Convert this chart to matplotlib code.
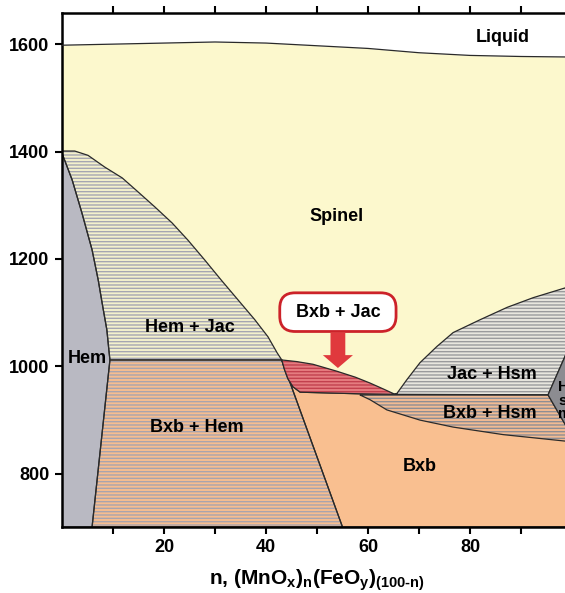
import matplotlib
matplotlib.use("Agg")
import matplotlib.pyplot as plt
from matplotlib.patches import Polygon

plt.rcParams['font.family'] = ['Liberation Sans', 'DejaVu Sans']
plt.rcParams['font.weight'] = 'bold'
plt.rcParams['mathtext.fontset'] = 'custom'
plt.rcParams['mathtext.rm'] = 'Liberation Sans:bold'
plt.rcParams['mathtext.it'] = 'Liberation Sans:bold'
plt.rcParams['mathtext.bf'] = 'Liberation Sans:bold'
plt.rcParams['hatch.linewidth'] = 1.0

# phase boundaries, n (mol% MnOx) vs T (deg C)
liquidus_n = [0, 10, 20, 30, 40, 50, 60, 70, 80, 90, 100]
liquidus_T = [1598, 1600, 1602, 1604, 1602, 1597, 1592, 1584, 1579, 1577, 1576]

hemjac_top_n = [0, 2.5, 5.1, 8.4, 11.8, 14.9, 18.2, 21.6, 24.7, 28.0, 31.2, 34.5, 37.8, 40.4, 42.2, 43.1]
hemjac_top_T = [1401, 1401, 1393, 1371, 1351, 1325, 1297, 1267, 1235, 1198, 1161, 1124, 1087, 1055, 1025, 1012]

hem_edge_n = [0, 2.0, 3.9, 5.9, 7.1, 8.0, 8.8, 9.2, 9.4, 5.9]
hem_edge_T = [1397, 1347, 1286, 1217, 1161, 1111, 1068, 1030, 1012, 701]

bxbhem_edge_n = [43.1, 55.0]
bxbhem_edge_T = [1012, 701]

bxbjac_top_n = [43.1, 46.0, 49.2, 53.9, 57.5, 60.4, 63.0, 65.3]
bxbjac_top_T = [1012, 1009, 1004, 991, 980, 969, 958, 948]
bxbjac_bot_n = [43.1, 43.6, 44.3, 45.3, 46.7, 58.4, 65.3]
bxbjac_bot_T = [1012, 995, 977, 962, 952, 949, 948]

jachsm_top_n = [65.3, 65.7, 67.6, 70.2, 73.5, 76.7, 82.0, 87.3, 92.4, 98.6, 100]
jachsm_top_T = [948, 950, 975, 1007, 1037, 1063, 1087, 1110, 1128, 1146, 1150]

hsm_edge_n = [100, 98.6, 95.3, 98.6, 100]
hsm_edge_T = [1048, 1018, 947, 893, 870]

bxbhsm_bot_n = [58.4, 60.4, 63.7, 70.2, 76.7, 86.5, 98.6, 100]
bxbhsm_bot_T = [947, 938, 919, 900, 887, 873, 861, 859]

T_min, T_max = 701, 1658

fig = plt.figure(figsize=(5.65, 5.93), dpi=100)
ax = fig.add_axes([0.1097, 0.1113, 0.9027, 0.8668])
ax.set_xlim(0, 100)
ax.set_ylim(T_min, T_max)

def pts(ns, ts):
    return list(zip(ns, ts))

def region(points, face, stripe=None, z=2):
    ax.add_patch(Polygon(points, closed=True, facecolor=face, edgecolor='none', lw=0, zorder=z))
    if stripe:
        ax.add_patch(Polygon(points, closed=True, facecolor='none', edgecolor=stripe,
                             lw=0, hatch='-----', zorder=z))
    ax.add_patch(Polygon(points, closed=True, fill=False, edgecolor='#2a2a2a', lw=0.9,
                         joinstyle='round', zorder=z + 0.5))

# spinel field below the liquidus
ax.fill_between(liquidus_n, T_min, liquidus_T, color='#fcf8cd', lw=0, zorder=1)
ax.plot(liquidus_n, liquidus_T, color='#2a2a2a', lw=0.9, zorder=3)

k = hem_edge_n.index(9.4)
hem = pts(hem_edge_n, hem_edge_T) + [(0, T_min)]
hemjac = pts(hemjac_top_n, hemjac_top_T) + pts(hem_edge_n[k::-1], hem_edge_T[k::-1])
bxbhem = [(hem_edge_n[k], hem_edge_T[k])] + pts(bxbhem_edge_n, bxbhem_edge_T) + [(hem_edge_n[-1], hem_edge_T[-1])]
bxb = (pts(bxbhem_edge_n, bxbhem_edge_T) + [(100, T_min), (100, 947)]
       + pts(bxbjac_bot_n[-2:0:-1], bxbjac_bot_T[-2:0:-1]))
bxbhsm = [(bxbhsm_bot_n[0], 947)] + pts(hsm_edge_n[2:], hsm_edge_T[2:]) + pts(bxbhsm_bot_n[::-1], bxbhsm_bot_T[::-1])
hsm = pts(hsm_edge_n, hsm_edge_T)
jachsm = pts(jachsm_top_n, jachsm_top_T) + pts(hsm_edge_n[:3], hsm_edge_T[:3])
bxbjac = pts(bxbjac_top_n, bxbjac_top_T) + pts(bxbjac_bot_n[::-1], bxbjac_bot_T[::-1])

region(hem, '#b9b9c2', z=2)
region(hemjac, '#f4f1cc', '#a6a6b2', z=2)
region(bxbhem, '#f6bd90', '#a8a4ae', z=2)
region(bxb, '#f9bf90', z=2)
region(bxbhsm, '#f1bb93', '#8e8e94', z=3)
region(jachsm, '#e8e6de', '#9a9a9c', z=3)
region(hsm, '#8c8c91', z=4)
region(bxbjac, '#e57c80', '#c2404e', z=4)

fs = 13
ax.text(86.5, 1613, 'Liquid', ha='center', va='center', fontsize=fs, zorder=6)
ax.text(53.9, 1280, 'Spinel', ha='center', va='center', fontsize=fs, zorder=6)
ax.text(25.1, 1072, 'Hem + Jac', ha='center', va='center', fontsize=fs, zorder=6)
ax.text(4.9, 1014, 'Hem', ha='center', va='center', fontsize=fs, zorder=6)
ax.text(26.5, 886, 'Bxb + Hem', ha='center', va='center', fontsize=fs, zorder=6)
ax.text(84.3, 984, 'Jac + Hsm', ha='center', va='center', fontsize=fs, zorder=6)
ax.text(83.9, 913, 'Bxb + Hsm', ha='center', va='center', fontsize=fs, zorder=6)
ax.text(70.2, 813, 'Bxb', ha='center', va='center', fontsize=fs, zorder=6)
ax.text(97.3, 936, 'H\ns\nm', ha='left', va='center', fontsize=11, linespacing=0.95, zorder=6)

# callout for the thin Bxb + Jac field
ax.text(54.1, 1101, ' Bxb + Jac ', ha='center', va='center', fontsize=fs, zorder=7,
        bbox=dict(boxstyle='round,pad=0.6,rounding_size=0.85', fc='white', ec='#cc2229', lw=2))
ax.arrow(54.1, 1063, 0, -66, width=2.9, head_width=5.9, head_length=24,
         length_includes_head=True, fc='#e0393d', ec='none', zorder=7)

ax.set_xticks([20, 40, 60, 80])
ax.set_xticks([10, 30, 50, 70, 90], minor=True)
ax.set_yticks([800, 1000, 1200, 1400, 1600])
ax.tick_params(which='both', direction='out', length=5, width=1.5, top=True,
               labelsize=13, pad=4)
ax.tick_params(axis='x', which='both', labeltop=False)
for side in ['left', 'bottom', 'top']:
    ax.spines[side].set_linewidth(1.8)
ax.spines['right'].set_visible(False)

ax.set_xlabel(r'n, (MnO$_\mathregular{x}$)$_\mathregular{n}$(FeO$_\mathregular{y}$)$_\mathregular{(100\text{-}n)}$',
              fontsize=15, fontweight='bold', labelpad=8)

fig.savefig('out.png', dpi=100)
